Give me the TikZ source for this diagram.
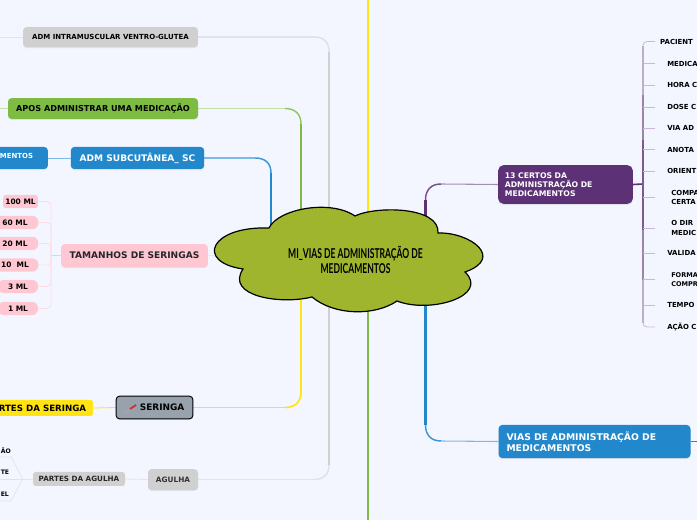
\documentclass[tikz,border=0pt]{standalone}
\usepackage{fontspec}
\setmainfont{DejaVu Sans}
\newfontfamily\rootfont[FakeStretch=0.63]{Lato}
\usetikzlibrary{shadows}
\pgfdeclarelayer{edges}
\pgfdeclarelayer{bgl}
\pgfsetlayers{bgl,edges,main}
\definecolor{bgc}{HTML}{F3F6FF}
\definecolor{cloudc}{HTML}{9FB52E}
\definecolor{purp}{HTML}{5C3175}
\definecolor{purpl}{HTML}{C9B6D8}
\definecolor{bluec}{HTML}{2288CB}
\definecolor{bluel}{HTML}{7DB9E8}
\definecolor{greenc}{HTML}{7DBB42}
\definecolor{greenl}{HTML}{C4E0A8}
\definecolor{pinkc}{HTML}{FFC7D2}
\definecolor{pinkl}{HTML}{FDDDE6}
\definecolor{greyc}{HTML}{D0D0D0}
\definecolor{greyl}{HTML}{E0E3EE}
\definecolor{yelc}{HTML}{FFE312}
\definecolor{slate}{HTML}{98A2AC}
\tikzset{
  x=0.75pt,y=-0.75pt,
  box/.style={rounded corners=2.6pt,inner sep=0pt,font=\bfseries\fontsize{6.3}{7.6}\selectfont,text=black,
    drop shadow={opacity=0.18,shadow xshift=0pt,shadow yshift=-0.8pt}},
  flat/.style={rounded corners=2pt,inner sep=0pt,font=\bfseries\fontsize{5.4}{6.8}\selectfont,text=black},
  pill/.style={flat,fill=pinkc,minimum height=10pt,font=\bfseries\fontsize{5.6}{6.8}\selectfont},
  certo/.style={anchor=west,inner ysep=0pt,font=\bfseries\fontsize{5.2}{6.9}\selectfont,text=black,align=left},
  certoa/.style={certo,inner xsep=3.7pt},
  certob/.style={certo,inner xsep=9pt},
  certoc/.style={certo,inner xsep=12pt},
  thinp/.style={line width=0.6pt,purpl},
  thinpink/.style={line width=0.6pt,pinkl,rounded corners=3pt},
  hexl/.style={line width=0.5pt,greyl},
}
\begin{document}
\begin{tikzpicture}
\useasboundingbox (0,0) rectangle (697,520);
\clip (0,0) rectangle (697,520);
\begin{pgfonlayer}{bgl}
\fill[bgc] (0,0) rectangle (697,520);
\end{pgfonlayer}

% root
\draw[fill=cloudc,draw=black,line width=0.9pt]
 (269,228) .. controls (278,209) and (330,199) .. (355,216)
 .. controls (375,206) and (440,206) .. (438,233)
 .. controls (470,232) and (505,258) .. (465,272)
 .. controls (490,296) and (430,314) .. (397,301)
 .. controls (375,316) and (335,316) .. (312,297)
 .. controls (280,305) and (225,296) .. (243,269)
 .. controls (195,262) and (210,226) .. (269,228) -- cycle;
\node[font=\rootfont\bfseries\fontsize{10.2}{11.6}\selectfont,align=center,inner sep=0pt,text=black] (root) at (355.5,260) {MI\_VIAS DE ADMINISTRAÇÃO DE\\MEDICAMENTOS};
\coordinate (topY) at (368,0);
\coordinate (botG) at (368,520);

% left nodes
\node[box,fill=greyc,minimum width=131pt,minimum height=15pt,font=\bfseries\fontsize{5.25}{7}\selectfont] (ventro) at (110.5,37) {ADM INTRAMUSCULAR VENTRO-GLUTEA};
\node[box,fill=greenc,minimum width=142.5pt,minimum height=15.5pt,font=\bfseries\fontsize{6.1}{7}\selectfont] (apos) at (103,108.5) {APOS ADMINISTRAR UMA MEDICAÇÃO};
\node[box,fill=bluec,text=white,minimum width=100pt,minimum height=16.5pt,font=\bfseries\fontsize{6.8}{8}\selectfont] (subc) at (137.5,158) {ADM SUBCUTÂNEA\_ SC};
\node[box,fill=bluec,text=white,minimum width=47pt,minimum height=16.5pt,font=\bfseries\fontsize{5.2}{7}\selectfont] (mentos) at (16.5,158) {\raisebox{3pt}{MENTOS}};
\node[box,fill=pinkc,minimum width=110pt,minimum height=17pt,text=black!85,font=\bfseries\fontsize{6.8}{8}\selectfont] (tam) at (134.5,255.5) {TAMANHOS DE SERINGAS};
\node[pill,minimum width=26pt] (p100) at (20.5,201.5) {100 ML};
\node[pill,minimum width=35pt,rounded corners=4.5pt] (p60) at (15,222.5) {60 ML};
\node[pill,minimum width=35pt,rounded corners=4.5pt] (p20) at (15,243.5) {20 ML};
\node[pill,minimum width=35pt,rounded corners=4.5pt] (p10) at (15,265) {10~ ML};
\node[pill,minimum width=30pt,rounded corners=4.5pt] (p3) at (18,286.5) {3 ML};
\node[pill,minimum width=30pt,rounded corners=4.5pt] (p1) at (18,308.5) {1 ML};
\node[box,fill=slate,draw=black,line width=0.7pt,minimum width=57.5pt,minimum height=17pt,rounded corners=2.5pt,font=\bfseries\fontsize{6.7}{8}\selectfont] (seringa) at (154.5,407.5) {\hspace*{11.5pt}SERINGA};
\draw[line width=1pt,gray!70] (125,413) -- (131,408);
\draw[line width=1.4pt,red!75!black!80] (130,409) -- (136,405);
\node[flat,fill=yelc,minimum width=76pt,minimum height=12pt,font=\bfseries\fontsize{6.5}{8}\selectfont] (partesS) at (42.5,408) {RTES DA SERINGA};
\node[box,fill=greyc,minimum width=37.5pt,minimum height=15.5pt,font=\bfseries\fontsize{5.5}{7}\selectfont,text=black!80] (agulha) at (173,479.5) {AGULHA};
\node[flat,fill=greyc,minimum width=69pt,minimum height=10.5pt,font=\bfseries\fontsize{5.4}{7}\selectfont,text=black!85] (partesA) at (79,479) {PARTES DA AGULHA};
\node[inner sep=0pt,anchor=west,font=\bfseries\fontsize{4.6}{6}\selectfont] (f1) at (0.5,450.5) {ÃO};
\node[inner sep=0pt,anchor=west,font=\bfseries\fontsize{4.6}{6}\selectfont] (f2) at (0.5,472.5) {TE};
\node[inner sep=0pt,anchor=west,font=\bfseries\fontsize{4.6}{6}\selectfont] (f3) at (0.5,494.5) {EL};

% right nodes
\node[box,fill=purp,text=white,minimum width=101pt,minimum height=29pt,rounded corners=4pt,align=left,font=\bfseries\fontsize{5.8}{6.9}\selectfont,text width=91pt] (certos) at (565.5,184.5) {13 CERTOS DA\\ADMINISTRAÇÃO DE\\MEDICAMENTOS};
\node[box,fill=bluec,text=white,minimum width=144pt,minimum height=25pt,rounded corners=3pt,align=left,font=\bfseries\fontsize{6.95}{8.4}\selectfont,text width=132pt] (vias) at (594.5,441.5) {VIAS DE ADMINISTRAÇÃO DE\\MEDICAMENTOS};

\coordinate (tr) at (643,184);
\node[certoa] (c1) at (655,41.5) {PACIENT};
\node[certob] (c2) at (655,63.5) {MEDICA};
\node[certob] (c3) at (655,85) {HORA C};
\node[certob] (c4) at (655,107) {DOSE C};
\node[certob] (c5) at (655,128) {VIA AD};
\node[certob] (c6) at (655,149.5) {ANOTA};
\node[certob] (c7) at (655,171) {ORIENT};
\node[certoc] (c8) at (655,197.5) {COMPA\\CERTA};
\node[certoc] (c9) at (655,228) {O DIR\\MEDIC};
\node[certob] (c10) at (655,253) {VALIDA};
\node[certoc,font=\bfseries\fontsize{4.9}{6.9}\selectfont] (c11) at (655,279.5) {FORMA\\COMPR};
\node[certob] (c12) at (655,305) {TEMPO};
\node[certob] (c13) at (655,327) {AÇÃO C};

\begin{pgfonlayer}{edges}
% central vertical
\draw[yelc,line width=1.4pt] (topY) -- (368,225);
\draw[greenc,line width=1.4pt] (botG) -- (368,295);
% grey
\draw[greyl,line width=0.8pt] (ventro.east) -- (314,37);
\draw[greyl!85!greyc,line width=1.1pt] (314,37) .. controls (324,37) and (329,42) .. (329,52);
\draw[greyl,line width=0.8pt] (agulha.east) -- (314,479.5);
\draw[greyl!85!greyc,line width=1.1pt] (314,479.5) .. controls (324,479.5) and (329,474) .. (329,465);
\draw[greyc,line width=1.8pt] (329,52) -- (329,465);
% green
\draw[greenl,line width=0.8pt] (apos.east) -- (285,108.5);
\draw[greenc!70!greenl,line width=1.1pt] (285,108.5) .. controls (295,108.5) and (301,114) .. (301,124);
\draw[greenc,line width=1.6pt] (301,124) -- (301,225);
% blue left
\draw[bluel,line width=0.8pt] (subc.east) -- (255,158);
\draw[bluec!70!bluel,line width=1.1pt] (255,158) .. controls (265,158) and (271,163) .. (271,173);
\draw[bluec,line width=1.6pt] (271,173) -- (271,225);
% yellow left
\draw[yelc,line width=0.9pt] (seringa.east) -- (285,407.5);
\draw[yelc,line width=1.2pt] (285,407.5) .. controls (295,407.5) and (301,402) .. (301,392);
\draw[yelc,line width=1.6pt] (301,392) -- (301,300);
% root to right
\draw[purp!55,line width=0.8pt] (certos.west) -- (441,184);
\draw[purp!85,line width=1.1pt] (441,184) .. controls (431,184) and (425.5,190) .. (425.5,200);
\draw[purp,line width=1.6pt] (425.5,200) -- (425.5,225);
\draw[bluel,line width=0.8pt] (vias.west) -- (441,441);
\draw[bluec!70!bluel,line width=1.1pt] (441,441) .. controls (431,441) and (425.5,435) .. (425.5,425);
\draw[bluec,line width=1.6pt] (425.5,425) -- (425.5,295);
\draw[bluec,line width=1.3pt] (vias.east) -- (697,441.5);
% left connectors
\draw[greyl,line width=0.6pt] (0,37) -- (ventro.west);
\draw[greenl,line width=0.6pt] (0,108.5) -- (apos.west);
\draw[bluel,line width=0.6pt] (mentos.east) -- (subc.west);
\draw[pinkl,line width=0.6pt] (tam.east) -- (225,255.5);
\draw[pinkc,line width=1.1pt] (tam.west) -- (51,255.5);
\foreach \n in {p100,p60,p20,p10,p3,p1}{
  \draw[thinpink] (\n.east) -| (51,255.5);
}
\draw[yelc,line width=0.6pt] (partesS.east) -- (seringa.west);
\draw[greyl,line width=0.6pt] (partesA.east) -- (agulha.west);
\draw[hexl] (partesA.west) -- (0,479);
\draw[hexl] (partesA.west) ++(-10,0) -- (11,457) -- (0,457);
\draw[hexl] (partesA.west) ++(-10,0) -- (11,501) -- (0,501);
% certos tree
\draw[purp,line width=1.2pt] (certos.east) -- (tr);
\draw[purp!80,line width=1.1pt] (643,140) -- (643,230);
\draw[purp!60,line width=1pt] (643,95) -- (643,140);
\draw[purp!60,line width=1pt] (643,230) -- (643,280);
\draw[purp!40,line width=0.8pt] (643,46) -- (643,95);
\draw[purp!40,line width=0.8pt] (643,280) -- (643,323);
\foreach \n in {c2,c3,c4,c5,c6,c7,c8,c9,c10,c11,c12}{
  \draw[thinp] (\n.west) -- +(-12,0);
}
\draw[thinp,rounded corners=3pt] (c1.west) -- (643,41.5) -- (643,48);
\draw[thinp,rounded corners=3pt] (c13.west) -- (643,327) -- (643,320);
\end{pgfonlayer}
\end{tikzpicture}
\end{document}
